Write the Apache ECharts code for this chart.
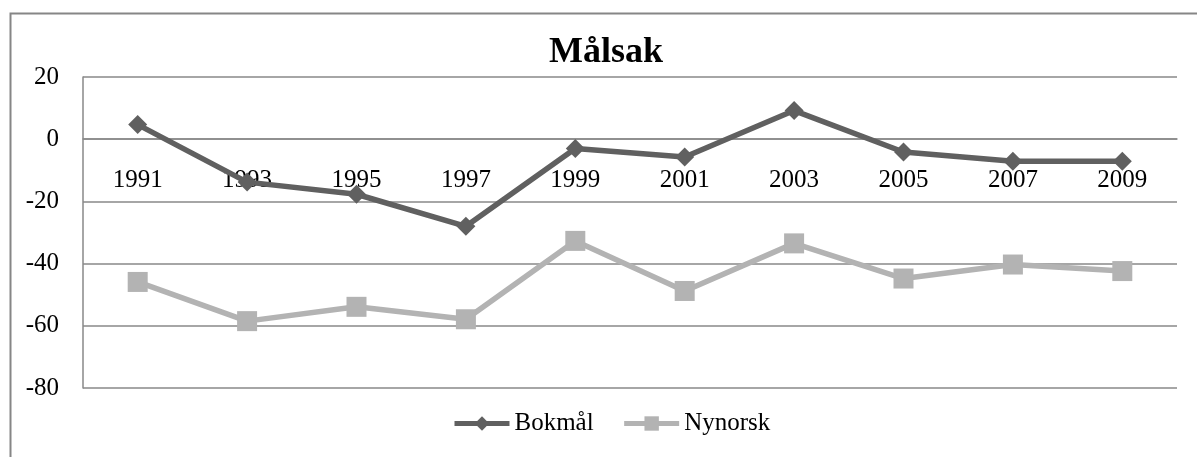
<!DOCTYPE html>
<html>
<head>
<meta charset="utf-8">
<script src="https://cdn.jsdelivr.net/npm/echarts@6/dist/echarts.min.js"></script>
<style>html,body{margin:0;padding:0;background:#fff;}#c{width:1197px;height:457px;}</style>
</head>
<body>
<div id="c"></div>
<script>
const years = ['1991','1993','1995','1997','1999','2001','2003','2005','2007','2009'];
const bokmal = [4.7, -13.8, -17.7, -28, -3, -5.7, 9.2, -4.1, -7.1, -7.1];
const nynorsk = [-45.9, -58.5, -53.9, -57.9, -32.7, -48.8, -33.5, -44.8, -40.3, -42.4];
const yTicks = { min: -80, max: 20, interval: 20 };

const font = 'Liberation Serif, Times New Roman, serif';
const gridTop = 77, gridBottom = 69, H = 457;
const plotH = H - gridTop - gridBottom;
const zeroOffset = -plotH * (0 - yTicks.min) / (yTicks.max - yTicks.min);

const chart = echarts.init(document.getElementById('c'), null, { renderer: 'canvas' });
chart.setOption({
  backgroundColor: '#fff',
  animation: false,
  graphic: [{
    type: 'rect', left: 8, top: 11, silent: true,
    shape: { width: 1400, height: 700 },
    style: { fill: 'none', stroke: '#868686', lineWidth: 2 }
  }],
  title: {
    text: 'Målsak', left: 549, top: 35, padding: 0,
    textStyle: { fontFamily: font, fontSize: 36, fontWeight: 'bold', color: '#000' }
  },
  legend: {
    left: 452, top: 411, padding: 0,
    itemWidth: 55, itemHeight: 18, itemGap: 28,
    lineStyle: { width: 5 },
    textStyle: { fontFamily: font, fontSize: 25, color: '#000' },
    data: ['Bokmål', 'Nynorsk']
  },
  grid: { left: 83, right: 20, top: gridTop, bottom: gridBottom, containLabel: false },
  xAxis: {
    type: 'category', data: years, boundaryGap: true,
    position: 'bottom', offset: zeroOffset,
    axisLine: { onZero: false, lineStyle: { color: '#898989', width: 1.5 } },
    axisTick: { show: false },
    axisLabel: { margin: 29, fontFamily: font, fontSize: 25, color: '#000' },
    splitLine: { show: false }
  },
  yAxis: {
    type: 'value', min: yTicks.min, max: yTicks.max, interval: yTicks.interval,
    axisLine: { show: true, lineStyle: { color: '#898989', width: 1.5 } },
    axisTick: { show: false },
    axisLabel: { margin: 24, fontFamily: font, fontSize: 25, color: '#000' },
    splitLine: { show: true, lineStyle: { color: '#898989', width: 1.5 } }
  },
  series: [
    {
      name: 'Bokmål', type: 'line', data: bokmal, z: 3,
      symbol: 'diamond', symbolSize: 19,
      lineStyle: { color: '#606060', width: 5.5 },
      itemStyle: { color: '#606060' }
    },
    {
      name: 'Nynorsk', type: 'line', data: nynorsk, z: 2,
      symbol: 'rect', symbolSize: 20,
      lineStyle: { color: '#b3b3b3', width: 5.5 },
      itemStyle: { color: '#b3b3b3' }
    }
  ]
});
</script>
</body>
</html>
